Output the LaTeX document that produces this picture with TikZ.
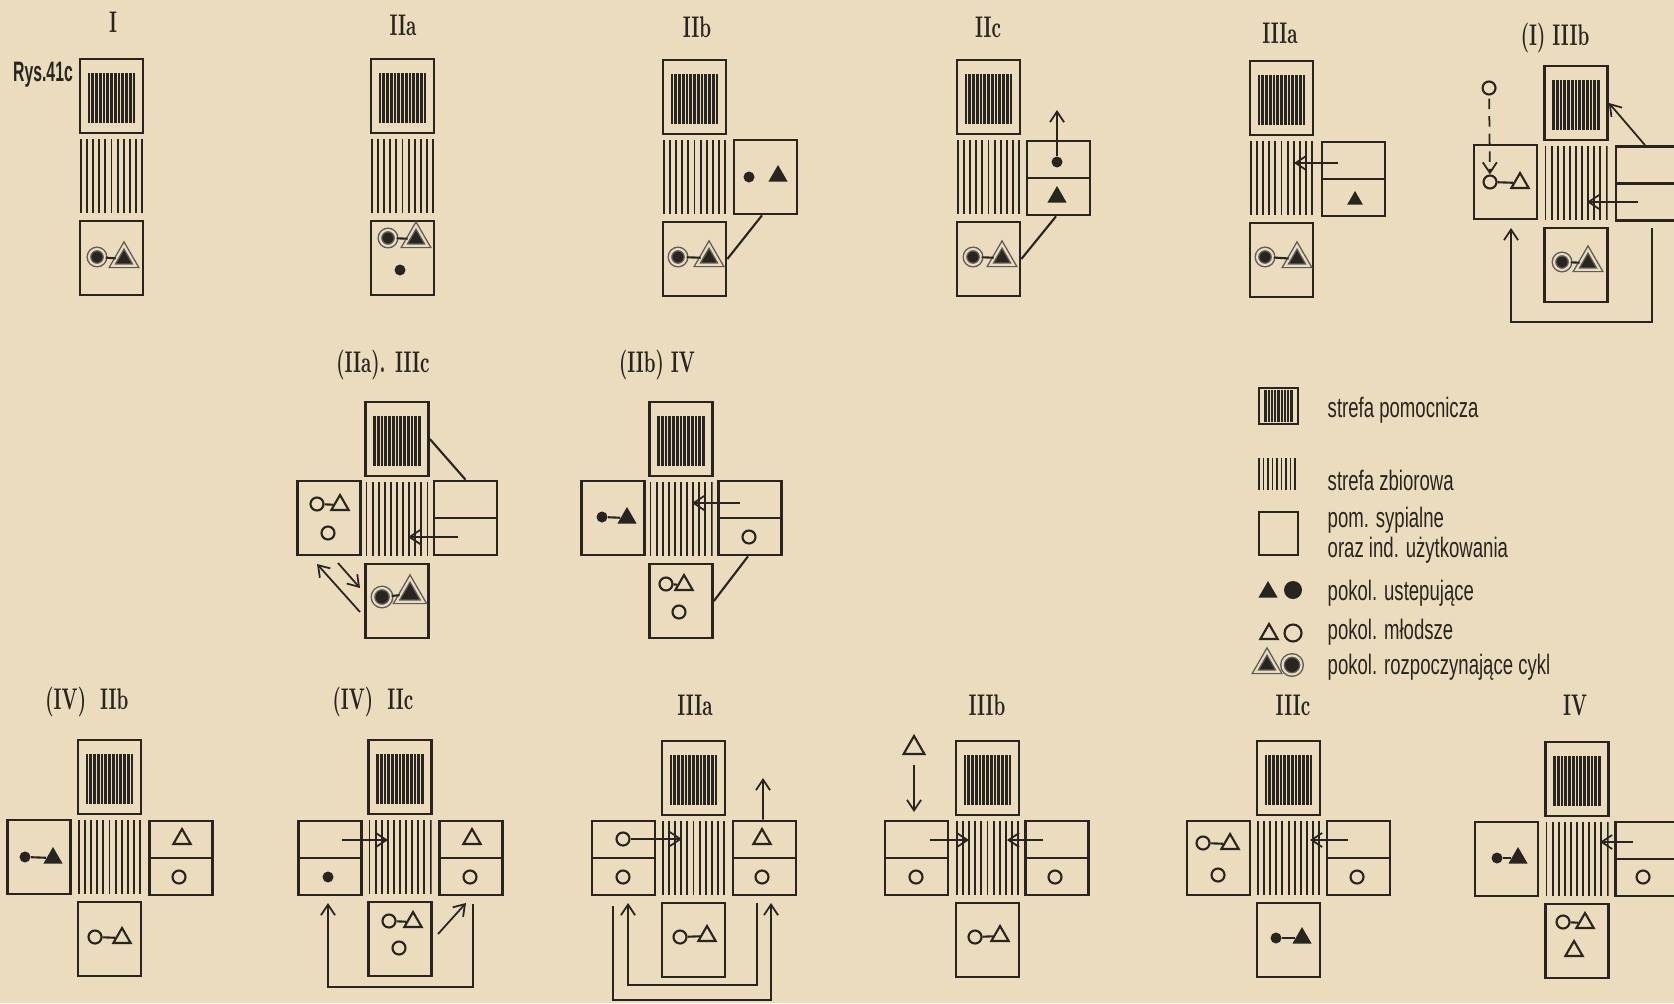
\documentclass[tikz,border=0pt]{standalone}
\usepackage{fontspec}
\usepackage{graphicx}
\usetikzlibrary{shapes.geometric,arrows.meta}
\newfontfamily\legfont{Liberation Sans}
\definecolor{paper}{RGB}{234,220,188}
\definecolor{ink}{RGB}{40,36,32}
\newcommand{\wasko}[2][0.66]{\scalebox{#1}[1]{#2}}

\tikzset{
    box/.style={draw=ink, line width=0.75pt, minimum width=0.63cm, minimum height=0.74cm, inner sep=0pt},
    aux/.style={box, path picture={
        \foreach \i in {0,...,12}
            \draw[ink, line width=0.75pt] ([xshift=-0.225cm+\i*0.0375cm, yshift=-0.27cm]path picture bounding box.center) -- ++(0,0.5cm);}},
    zone/.style={minimum width=0.63cm, minimum height=0.73cm, inner sep=0pt, path picture={
        \foreach \i in {0,...,10}
            \draw[ink, line width=0.55pt] ([xshift=-0.305cm+\i*0.061cm, yshift=-0.365cm]path picture bounding box.center) -- ++(0,0.73cm);}},
    split/.style={box, path picture={
        \draw[ink, line width=0.75pt] (path picture bounding box.west) -- (path picture bounding box.east);}},
    oc/.style={circle, fill=ink, inner sep=0pt, minimum size=0.11cm},
    ot/.style={regular polygon, regular polygon sides=3, fill=ink, inner sep=0pt, minimum size=0.22cm},
    yc/.style={circle, draw=ink, line width=0.6pt, inner sep=0pt, minimum size=0.13cm},
    yt/.style={regular polygon, regular polygon sides=3, draw=ink, line width=0.6pt, inner sep=0pt, minimum size=0.2cm},
    sc/.style={circle, fill=ink, draw=ink!75, double=paper, double distance=0.6pt, line width=0.4pt, inner sep=0pt, minimum size=0.16cm},
    st/.style={regular polygon, regular polygon sides=3, fill=ink, draw=ink!75, double=paper, double distance=0.6pt, line width=0.4pt, inner sep=0pt, minimum size=0.27cm},
    link/.style={ink, line width=0.6pt},
    arr/.style={ink, line width=0.5pt, -{Straight Barb[length=3pt,width=4pt]}},
    head/.style={ink, font=\bfseries\fontsize{8.5}{9}\selectfont},
    key/.style={ink, anchor=west, inner sep=0pt, align=left, font=\legfont\fontsize{8}{6.5}\selectfont}
}

\begin{document}
\begin{tikzpicture}[x=0.01cm, y=-0.01cm]
    % tlo
    \fill[paper] (0,0) rectangle (1674,1003);
    \useasboundingbox (0,0) rectangle (1674,1003);

    % Naglowki
    \foreach \n/\x/\y/\t in {h1/113/22/I, h2/403/25/IIa, h3/697/27/IIb, h4/988/27/IIc,
        h5/1280/33/IIIa, h6/1555/38/(I) IIIb, h7/383/365/(IIa). IIIc, h8/657/365/(IIb) IV,
        h9/87/702/(IV)\ \ IIb, h10/373/702/(IV)\ \ IIc, h11/695/705/IIIa, h12/987/705/IIIb,
        h13/1293/705/IIIc, h14/1575/705/IV}
        \node[head] (\n) at (\x,\y) {\wasko[0.6]{\t}};
    \node[ink, font=\legfont\bfseries\fontsize{8}{8}\selectfont] (rys) at (43,75) {\wasko[0.56]{Rys.41c}};

    % Moduly: strefa pomocnicza, strefa zbiorowa, pokoj
    \foreach \n/\cx/\cy in {m1/111.5/59, m2/402.5/59, m3/694.5/60, m4/988.5/60, m5/1281.5/61,
        m6/1576/66, m7/397/402, m8/681/402, m9/109.5/740, m10/400/740, m11/693.5/741,
        m12/987.5/741, m13/1288.5/741, m14/1577/742} {
        \node[aux] (\n-a) at (\cx,\cy+37) {};
        \node[zone] (\n-z) at (\cx,\cy+117) {};
        \node[box] (\n-r) at (\cx,\cy+199) {};
    }

    % Pokoje boczne
    \node[box] (m3-s) at (765.5,177) {};
    \node[split] (m4-s) at (1058.5,178) {};
    \node[split] (m5-s) at (1353.5,179) {};
    \node[box] (m6-l) at (1505.5,182) {};
    \node[split] (m6-s) at (1647.5,183.5) {};
    \node[box] (m7-l) at (329,518) {};
    \node[split] (m7-s) at (465.5,518) {};
    \node[box] (m8-l) at (613,518) {};
    \node[split] (m8-s) at (750,518) {};
    \node[box] (m9-l) at (39,857) {};
    \node[split] (m9-s) at (181,858) {};
    \node[split] (m10-l) at (330,858) {};
    \node[split] (m10-s) at (471,858) {};
    \node[split] (m11-l) at (623.5,858) {};
    \node[split] (m11-s) at (764.5,858) {};
    \node[split] (m12-l) at (916.5,858) {};
    \node[split] (m12-s) at (1057,858) {};
    \node[box] (m13-l) at (1218.5,858) {};
    \node[split] (m13-s) at (1358.5,858) {};
    \node[box] (m14-l) at (1506.5,859) {};
    \node[split] (m14-s) at (1647,859) {};

    % I
    \node[sc] (m1-c) at (97,257) {};
    \node[st] (m1-t) at (124,259) {};
    \draw[link] (m1-c) -- (m1-t);

    % IIa
    \node[sc] (m2-c) at (388,238) {};
    \node[st] (m2-t) at (416,239) {};
    \draw[link] (m2-c) -- (m2-t);
    \node[oc] (m2-d) at (400,270) {};

    % IIb
    \node[sc] (m3-c) at (678,257) {};
    \node[st] (m3-t) at (709,258) {};
    \draw[link] (m3-c) -- (m3-t);
    \node[oc] (m3-oc) at (749,177) {};
    \node[ot] (m3-ot) at (778,176) {};
    \draw[link] ([xshift=-0.035cm]m3-s.south) -- (m3-r.east);

    % IIc
    \node[sc] (m4-c) at (973,257) {};
    \node[st] (m4-t) at (1002,258) {};
    \draw[link] (m4-c) -- (m4-t);
    \node[oc] (m4-oc) at (1057,162) {};
    \node[ot] (m4-ot) at (1057,197) {};
    \coordinate (m4-u) at (1057,110);
    \draw[arr] (m4-oc) -- (m4-u);
    \draw[link] ([xshift=-0.025cm]m4-s.south) -- (m4-r.east);

    % IIIa
    \node[sc] (m5-c) at (1265,257) {};
    \node[st] (m5-t) at (1297,259) {};
    \draw[link] (m5-c) -- (m5-t);
    \node[ot, minimum size=0.18cm] (m5-ot) at (1355,200) {};
    \coordinate (m5-p) at (1338,163);
    \coordinate (m5-q) at (1294,163);
    \draw[arr] (m5-p) -- (m5-q);

    % (I) IIIb
    \node[sc] (m6-c) at (1562,262) {};
    \node[st] (m6-t) at (1588,263) {};
    \draw[link] (m6-c) -- (m6-t);
    \node[yc] (m6-lc) at (1490,182) {};
    \node[yt] (m6-lt) at (1520,183) {};
    \draw[link] (m6-lc) -- (m6-lt);
    \node[yc] (m6-c0) at (1489,88) {};
    \draw[arr, densely dashed, shorten <=0.03cm] (m6-c0) -- (m6-lc);
    \draw[arr] ([xshift=-0.025cm]m6-s.north) -- (m6-a.east);
    \coordinate (m6-p) at (1638,202);
    \coordinate (m6-q) at (1587,202);
    \draw[arr] (m6-p) -- (m6-q);
    \coordinate (m6-o1) at (1652,228);
    \coordinate (m6-o2) at (1511,228);
    \draw[arr] (m6-o1) -- ++(0,94) -| (m6-o2);

    % (IIa). IIIc
    \node[sc, minimum size=0.18cm] (m7-c) at (382,597) {};
    \node[st, minimum size=0.31cm] (m7-t) at (410,594) {};
    \draw[link] (m7-c) -- (m7-t);
    \node[yc] (m7-lc) at (317,504) {};
    \node[yt] (m7-lt) at (340,505) {};
    \draw[link] (m7-lc) -- (m7-lt);
    \node[yc] (m7-c2) at (328,533) {};
    \draw[link] (m7-a.east) -- (m7-s.north);
    \coordinate (m7-p) at (458,537);
    \coordinate (m7-q) at (408,537);
    \draw[arr] (m7-p) -- (m7-q);
    \coordinate (m7-d1) at (360,612);
    \coordinate (m7-d2) at (317,564);
    \coordinate (m7-d3) at (338,563);
    \coordinate (m7-d4) at (360,588);
    \draw[arr] (m7-d1) -- (m7-d2);
    \draw[arr] (m7-d3) -- (m7-d4);

    % (IIb) IV
    \node[oc] (m8-lc) at (602,517) {};
    \node[ot] (m8-lt) at (627,518) {};
    \draw[link] (m8-lc) -- (m8-lt);
    \coordinate (m8-p) at (740,503);
    \coordinate (m8-q) at (692,503);
    \draw[arr] (m8-p) -- (m8-q);
    \node[yc] (m8-sc) at (749,537) {};
    \draw[link] ([xshift=-0.02cm]m8-s.south) -- (m8-r.east);
    \node[yc] (m8-c) at (666,584) {};
    \node[yt] (m8-t) at (684,585) {};
    \draw[link] (m8-c) -- (m8-t);
    \node[yc] (m8-c2) at (679,612) {};

    % (IV) IIb
    \node[oc] (m9-lc) at (25,857) {};
    \node[ot] (m9-lt) at (53,858) {};
    \draw[link] (m9-lc) -- (m9-lt);
    \node[yt] (m9-st) at (182,839) {};
    \node[yc] (m9-sc) at (179,877) {};
    \node[yc] (m9-c) at (95,937) {};
    \node[yt] (m9-t) at (122,938) {};
    \draw[link] (m9-c) -- (m9-t);

    % (IV) IIc
    \coordinate (m10-p) at (342,840);
    \coordinate (m10-q) at (388,840);
    \draw[arr] (m10-p) -- (m10-q);
    \node[oc] (m10-lc) at (328,877) {};
    \node[yt] (m10-st) at (472,839) {};
    \node[yc] (m10-sc) at (470,877) {};
    \node[yc] (m10-c) at (389,921) {};
    \node[yt] (m10-t) at (413,922) {};
    \draw[link] (m10-c) -- (m10-t);
    \node[yc] (m10-c2) at (399,948) {};
    \coordinate (m10-d1) at (438,934);
    \coordinate (m10-d2) at (466,903);
    \draw[arr] (m10-d1) -- (m10-d2);
    \coordinate (m10-o1) at (473,904);
    \coordinate (m10-o2) at (328,903);
    \draw[arr] (m10-o1) -- ++(0,83) -| (m10-o2);

    % IIIa
    \node[yc] (m11-lc) at (623,839) {};
    \coordinate (m11-p) at (682,839);
    \draw[arr] (m11-lc) -- (m11-p);
    \node[yc] (m11-lc2) at (623,877) {};
    \node[yt] (m11-st) at (762,839) {};
    \node[yc] (m11-sc) at (762,877) {};
    \coordinate (m11-u) at (763,778);
    \draw[arr] ([xshift=-0.015cm]m11-s.north) -- (m11-u);
    \node[yc] (m11-c) at (680,937) {};
    \node[yt] (m11-t) at (707,936) {};
    \draw[link] (m11-c) -- (m11-t);
    \coordinate (m11-i1) at (757,903);
    \coordinate (m11-i2) at (628,903);
    \draw[arr] (m11-i1) -- ++(0,82) -| (m11-i2);
    \coordinate (m11-o1) at (613,906);
    \coordinate (m11-o2) at (771,903);
    \draw[arr] (m11-o1) -- ++(0,94) -| (m11-o2);

    % IIIb
    \node[yt, minimum size=0.24cm] (m12-t0) at (914,748) {};
    \coordinate (m12-d) at (914,812);
    \draw[arr, shorten <=0.1cm] (m12-t0) -- (m12-d);
    \coordinate (m12-p) at (930,840);
    \coordinate (m12-q) at (969,840);
    \draw[arr] (m12-p) -- (m12-q);
    \node[yc] (m12-lc) at (916,877) {};
    \coordinate (m12-p2) at (1043,840);
    \coordinate (m12-q2) at (1007,840);
    \draw[arr] (m12-p2) -- (m12-q2);
    \node[yc] (m12-sc) at (1055,877) {};
    \node[yc] (m12-c) at (975,937) {};
    \node[yt] (m12-t) at (1000,936) {};
    \draw[link] (m12-c) -- (m12-t);

    % IIIc
    \node[yc] (m13-lc) at (1203,843) {};
    \node[yt] (m13-lt) at (1230,844) {};
    \draw[link] (m13-lc) -- (m13-lt);
    \node[yc] (m13-lc2) at (1218,875) {};
    \coordinate (m13-p) at (1348,840);
    \coordinate (m13-q) at (1310,840);
    \draw[arr] (m13-p) -- (m13-q);
    \node[yc] (m13-sc) at (1357,877) {};
    \node[oc] (m13-c) at (1276,938) {};
    \node[ot] (m13-t) at (1302,938) {};
    \draw[link] (m13-c) -- (m13-t);

    % IV
    \node[oc] (m14-lc) at (1497,858) {};
    \node[ot] (m14-lt) at (1518,858) {};
    \draw[link] (m14-lc) -- (m14-lt);
    \coordinate (m14-p) at (1633,842);
    \coordinate (m14-q) at (1600,842);
    \draw[arr] (m14-p) -- (m14-q);
    \node[yc] (m14-sc) at (1643,877) {};
    \node[yc] (m14-c) at (1563,922) {};
    \node[yt] (m14-t) at (1585,923) {};
    \draw[link] (m14-c) -- (m14-t);
    \node[yt] (m14-t2) at (1574,951) {};

    % Legenda
    \node[box, line width=0.6pt, minimum width=0.39cm, minimum height=0.36cm, path picture={
        \foreach \i in {0,...,8}
            \draw[ink, line width=0.6pt] ([xshift=-0.13cm+\i*0.0325cm, yshift=-0.16cm]path picture bounding box.center) -- ++(0,0.32cm);}] (k1) at (1278.5,406) {};
    \node[inner sep=0pt, minimum width=0.38cm, minimum height=0.32cm, path picture={
        \foreach \i in {0,...,8}
            \draw[ink, line width=0.5pt] ([xshift=-0.18cm+\i*0.045cm, yshift=-0.16cm]path picture bounding box.center) -- ++(0,0.32cm);}] (k2) at (1277,474) {};
    \node[box, line width=0.6pt, minimum width=0.39cm, minimum height=0.43cm] (k3) at (1278.5,533.5) {};
    \node[ot] (k4t) at (1268,592) {};
    \node[oc, minimum size=0.18cm] (k4c) at (1293,590) {};
    \node[yt] (k5t) at (1269,634) {};
    \node[yc, minimum size=0.17cm] (k5c) at (1293,633) {};
    \node[st] (k6t) at (1267,665) {};
    \node[sc, minimum size=0.19cm] (k6c) at (1292,665) {};

    \node[key] (t1) at (1327,410) {\wasko{strefa pomocnicza}};
    \node[key] (t2) at (1327,480) {\wasko{strefa zbiorowa}};
    \node[key] (t3) at (1327,535) {\wasko{pom. sypialne}\\\wasko{oraz ind. użytkowania}};
    \node[key] (t4) at (1327,593) {\wasko{pokol. ustepujące}};
    \node[key] (t5) at (1327,632) {\wasko{pokol. młodsze}};
    \node[key] (t6) at (1327,667) {\wasko{pokol. rozpoczynające cykl}};
\end{tikzpicture}
\end{document}
